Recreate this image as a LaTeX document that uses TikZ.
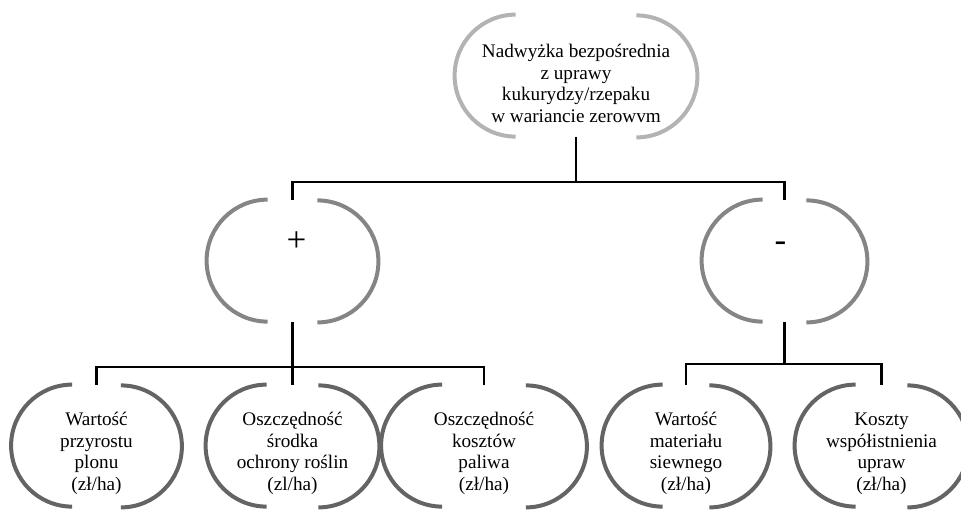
\documentclass[tikz,border=0pt]{standalone}
\usepackage{fontspec}
\setmainfont{Liberation Serif}
\usepackage{xcolor}
\usepackage{tikz}
\usetikzlibrary{calc}
\definecolor{cT}{HTML}{B3B3B3}
\definecolor{cM}{HTML}{858585}
\definecolor{cB}{HTML}{646464}
\tikzset{brk/.style={line width=2pt},
  conn/.style={line width=1.1pt},
  brbox/.style={inner sep=0pt,minimum height=61pt,align=center,
    font=\fontsize{9.6}{10.85}\selectfont},
  sign/.style={font=\fontsize{17.5}{18}\selectfont}}
\newcommand{\brnode}[7][]{%
  \node[brbox,minimum width=#5*0.5pt,#1] (#2) at (#3,#4) {\rule{0pt}{14pt}#7};
  \draw[brk,draw=#6] ([xshift=30.5pt]#2.north west) arc (90:270:30.5pt);
  \draw[brk,draw=#6] ([xshift=-30.5pt]#2.south east) arc (-90:90:30.5pt);}

\begin{document}
\begin{tikzpicture}[x=0.5pt,y=0.5pt]
  \useasboundingbox (0,0) rectangle (961,511);
  \brnode{top}{576}{435}{242}{cT}{Nadwyżka bezpośrednia\\z uprawy\\kukurydzy/rzepaku\\w wariancie zerowvm}
  \brnode[sign,text depth=23.6pt]{plus}{292.5}{250}{171}{cM}{\kern4pt+}
  \brnode[sign,text depth=23.1pt]{minus}{784.5}{250}{165}{cM}{-\kern4pt}
  \brnode{wart}{96.5}{65}{170}{cB}{Wartość\\przyrostu\\plonu\\(zł/ha)}
  \brnode{srod}{292.5}{65}{173}{cB}{Oszczędność\\środka\\ochrony roślin\\(zl/ha)}
  \brnode{pal}{484}{65}{205}{cB}{Oszczędność\\kosztów\\paliwa\\(zł/ha)}
  \brnode{siew}{686}{65}{168}{cB}{Wartość\\materiału\\siewnego\\(zł/ha)}
  \brnode{wsp}{881.5}{65}{173}{cB}{Koszty\\współistnienia\\upraw\\(zł/ha)}
  % connectors
  \coordinate (j1) at (576,329);
  \coordinate (j2) at (292.5,144);
  \coordinate (j3) at (784.5,147);
  \draw[conn] (top.south) -- (j1);
  \draw[conn] (j1) -| (plus.north);
  \draw[conn] (j1) -| (minus.north);
  \draw[conn] (plus.south) -- (j2) -- (srod.north);
  \draw[conn] (j2) -| (wart.north);
  \draw[conn] (j2) -| (pal.north);
  \draw[conn] (minus.south) -- (j3);
  \draw[conn] (j3) -| (siew.north);
  \draw[conn] (j3) -| (wsp.north);
\end{tikzpicture}
\end{document}
